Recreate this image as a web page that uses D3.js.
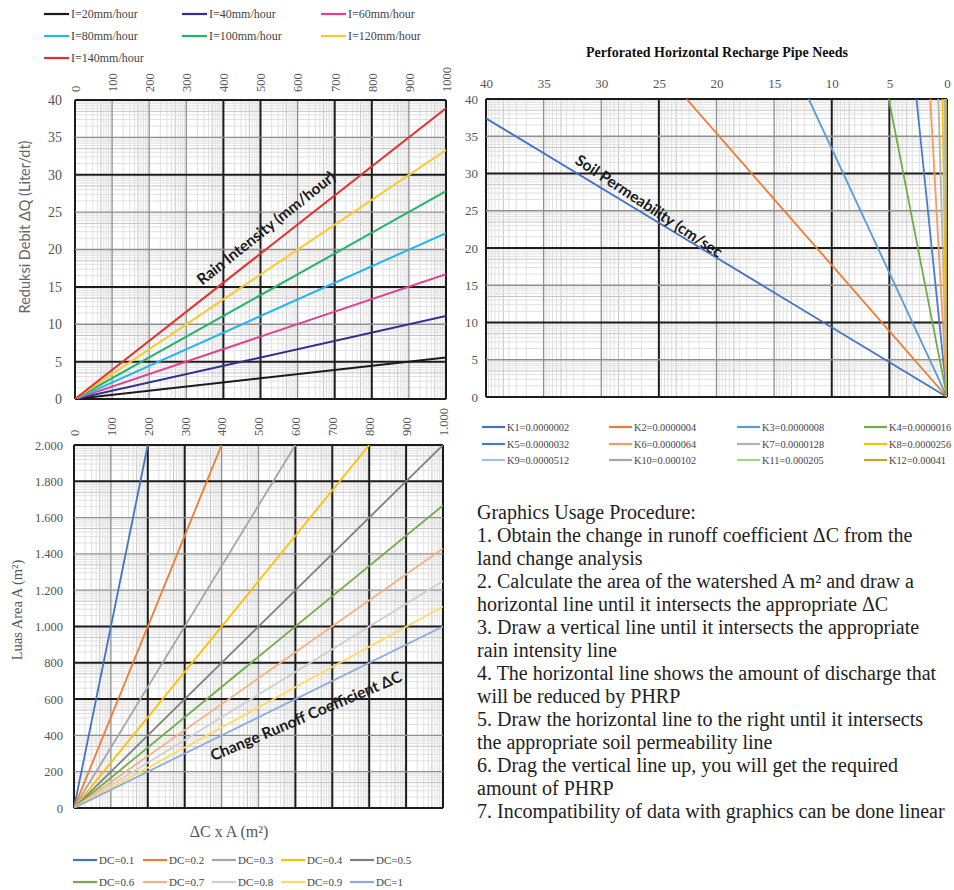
<!DOCTYPE html>
<html>
<head>
<meta charset="utf-8">
<script src="https://cdnjs.cloudflare.com/ajax/libs/d3/7.8.5/d3.min.js"></script>
<style>
  body { margin: 0; background: #fff; }
  text { font-family: "Liberation Serif", "Times New Roman", serif; }
</style>
</head>
<body>
<svg id="canvas"></svg>
<script>
// ---- data ----
// top-left: reduction of discharge per rain intensity (value at dC x A = 1000)
const rainLabels = ["I=20mm/hour", "I=40mm/hour", "I=60mm/hour", "I=80mm/hour", "I=100mm/hour", "I=120mm/hour", "I=140mm/hour"];
const rainQAt1000 = [5.56, 11.1, 16.7, 22.2, 27.8, 33.3, 38.9];

// top-right: pipe needs per soil permeability (end point of each line)
const permLabels = ["K1=0.0000002", "K2=0.0000004", "K3=0.0000008", "K4=0.0000016",
  "K5=0.0000032", "K6=0.0000064", "K7=0.0000128", "K8=0.0000256",
  "K9=0.0000512", "K10=0.000102", "K11=0.000205", "K12=0.00041"];
const permEndPipes = [40, 22.6, 12.0, 5.05, 2.65, 1.45, 0.75, 0.4, 0.22, 0.12, 0.06, 0.03];
const permEndQ = [37.4, 40, 40, 40, 40, 40, 40, 40, 40, 40, 40, 40];

// bottom-left: runoff coefficient change lines (end point of each line)
const dcLabels = ["DC=0.1", "DC=0.2", "DC=0.3", "DC=0.4", "DC=0.5", "DC=0.6", "DC=0.7", "DC=0.8", "DC=0.9", "DC=1"];
const dcEndX = [200, 400, 600, 800, 1000, 1000, 1000, 1000, 1000, 1000];
const dcEndA = [2000, 2000, 2000, 2000, 2000, 1667, 1430, 1250, 1110, 1000];

const rainTicksX = d3.range(0, 1001, 100);
const rainTicksY = d3.range(0, 41, 5);
const pipeTicksX = d3.range(0, 41, 5);
const pipeTicksY = d3.range(0, 41, 5);
const areaTicksX = d3.range(0, 1001, 100);
const areaTicksY = d3.range(0, 2001, 200);

const procedure = [
  "Graphics Usage Procedure:",
  "1. Obtain the change in runoff coefficient \u0394C from the",
  "land change analysis",
  "2. Calculate the area of the watershed A m\u00B2 and draw a",
  "horizontal line until it intersects the appropriate \u0394C",
  "3. Draw a vertical line until it intersects the appropriate",
  "rain intensity line",
  "4. The horizontal line shows the amount of discharge that",
  "will be reduced by PHRP",
  "5. Draw the horizontal line to the right until it intersects",
  "the appropriate soil permeability line",
  "6. Drag the vertical line up, you will get the required",
  "amount of PHRP",
  "7. Incompatibility of data with graphics can be done linear"
];

// ---- colours ----
const rainColors = ["#1a1a1a", "#2e2f8f", "#e0428f", "#21b5ef", "#22b56a", "#fdc82f", "#e2312f"];
const permColors = ["#4472c4", "#ed7d31", "#5b9bd5", "#70ad47", "#4a7bd0", "#f79a5c",
  "#b4b4b4", "#ffc000", "#9dc3e6", "#a5a5a5", "#a9d18e", "#c9a227"];
const dcColors = ["#4472c4", "#ed7d31", "#a5a5a5", "#ffc000", "#7f7f7f", "#70ad47",
  "#f4b183", "#d0d0d0", "#ffd966", "#8faadc"];

const width = 954;
const height = 890;

const canvas = d3.select("#canvas").attr("width", width).attr("height", height);

const idLocale = d3.formatLocale({ decimal: ",", thousands: ".", grouping: [3], currency: ["", ""] });

// log-paper style grid
const logFr = [2, 3, 4, 5, 6, 7, 8, 9].map((k) => Math.log10(k));

const drawGrid = (g, x, y, xStep, yStep, xThick, yThick) => {
  const [x0, x1] = x.domain();
  const [y0, y1] = y.domain();
  const xr = x.range();
  const yr = y.range();
  const minorX = [];
  for (let v = x0; v < x1; v += xStep) logFr.forEach((f) => minorX.push(v + f * xStep));
  const minorY = [];
  for (let v = y0; v < y1; v += yStep) logFr.forEach((f) => minorY.push(v + f * yStep));

  g.selectAll(".mx").data(minorX).enter().append("line")
    .attr("x1", (d) => x(d)).attr("x2", (d) => x(d))
    .attr("y1", yr[0]).attr("y2", yr[1])
    .attr("stroke", (d, i) => (i % 8 === 3 ? "#c4c4c4" : "#e0e0e0")).attr("stroke-width", 1);
  g.selectAll(".my").data(minorY).enter().append("line")
    .attr("y1", (d) => y(d)).attr("y2", (d) => y(d))
    .attr("x1", xr[0]).attr("x2", xr[1])
    .attr("stroke", (d, i) => (i % 8 === 3 ? "#c4c4c4" : "#e0e0e0")).attr("stroke-width", 1);

  g.selectAll(".Mx").data(d3.range(x0, x1 + 0.001, xStep)).enter().append("line")
    .attr("x1", (d) => x(d)).attr("x2", (d) => x(d))
    .attr("y1", yr[0]).attr("y2", yr[1])
    .attr("stroke", (d) => (xThick.includes(d) ? "#1c1c1c" : "#8f8f8f"))
    .attr("stroke-width", (d) => (xThick.includes(d) ? 2 : 1.3));
  g.selectAll(".My").data(d3.range(y0, y1 + 0.001, yStep)).enter().append("line")
    .attr("y1", (d) => y(d)).attr("y2", (d) => y(d))
    .attr("x1", xr[0]).attr("x2", xr[1])
    .attr("stroke", (d) => (yThick.includes(d) ? "#1c1c1c" : "#8f8f8f"))
    .attr("stroke-width", (d) => (yThick.includes(d) ? 2 : 1.3));
};

const styleAxis = (g, size) => {
  g.select(".domain").remove();
  g.selectAll("text").attr("fill", "#555").style("font-size", size + "px")
    .style("font-family", "Liberation Serif, serif");
};

const addClip = (id, x, y) => {
  canvas.append("clipPath").attr("id", id).append("rect")
    .attr("x", Math.min(...x.range())).attr("y", Math.min(...y.range()))
    .attr("width", Math.abs(x.range()[1] - x.range()[0]))
    .attr("height", Math.abs(y.range()[1] - y.range()[0]));
};

const line = d3.line();

const drawLegend = (labels, colors, cols, xs, ys, fontSize, lineLen) => {
  const lg = canvas.append("g");
  labels.forEach((lab, i) => {
    const cx = xs[i % cols];
    const cy = ys[Math.floor(i / cols)];
    lg.append("line").attr("x1", cx).attr("x2", cx + lineLen).attr("y1", cy).attr("y2", cy)
      .attr("stroke", colors[i]).attr("stroke-width", 2.2);
    lg.append("text").attr("x", cx + lineLen + 2).attr("y", cy).attr("dy", "0.35em")
      .attr("fill", "#444").style("font-size", fontSize + "px").text(lab);
  });
};

// ================= top-left: rain intensity =================
const xRain = d3.scaleLinear().domain([0, 1000]).range([75, 446]);
const yRain = d3.scaleLinear().domain([0, 40]).range([399, 100]);

drawLegend(rainLabels, rainColors, 3, [44, 182, 321], [14, 36, 58], 12, 25);

const gRain = canvas.append("g");
drawGrid(gRain, xRain, yRain, 100, 5, [0, 400, 500, 700, 800, 1000], [0, 5, 15, 30, 40]);

canvas.append("g").attr("transform", "translate(0,92)")
  .call(d3.axisTop(xRain).tickValues(rainTicksX).tickSize(0).tickFormat(d3.format("d")))
  .call((g) => styleAxis(g, 12.5))
  .selectAll("text")
  .attr("x", 0).attr("y", 0).attr("dy", "0.35em")
  .attr("transform", "rotate(-90)").style("text-anchor", "start");

canvas.append("g").attr("transform", "translate(75,0)")
  .call(d3.axisLeft(yRain).tickValues(rainTicksY).tickSize(0).tickPadding(13))
  .call((g) => styleAxis(g, 14));

addClip("clip-rain", xRain, yRain);
canvas.append("g").attr("clip-path", "url(#clip-rain)")
  .selectAll("path").data(rainQAt1000).enter().append("path")
  .attr("d", (q) => line([[xRain(0), yRain(0)], [xRain(1000), yRain(q)]]))
  .attr("fill", "none").attr("stroke", (d, i) => rainColors[i]).attr("stroke-width", 2);

canvas.append("text")
  .attr("transform", "translate(25,227) rotate(-90)")
  .attr("text-anchor", "middle").attr("dy", "0.35em")
  .attr("fill", "#666").style("font-family", "Lato, sans-serif").style("font-size", "14.5px")
  .text("Reduksi Debit \u0394Q (Liter/dt)");

canvas.append("text")
  .attr("transform", "translate(266,228) rotate(-38.5)")
  .attr("text-anchor", "middle").attr("dy", "0.35em")
  .attr("fill", "#1a1a1a").style("font-family", "Lato, sans-serif")
  .style("font-weight", "bold").style("font-size", "15.5px")
  .text("Rain Intensity (mm/hour)");

// ================= top-right: pipe needs =================
const xPipe = d3.scaleLinear().domain([0, 40]).range([947, 486]);
const yPipe = d3.scaleLinear().domain([0, 40]).range([397, 99]);

canvas.append("text").attr("x", 717).attr("y", 57).attr("text-anchor", "middle")
  .attr("fill", "#111").style("font-weight", "bold").style("font-size", "14px")
  .text("Perforated  Horizontal  Recharge  Pipe  Needs");

const gPipe = canvas.append("g");
drawGrid(gPipe, xPipe, yPipe, 5, 5, [0, 5, 10, 25, 40], [0, 10, 20, 30, 40]);

canvas.append("g").attr("transform", "translate(0,97)")
  .call(d3.axisTop(xPipe).tickValues(pipeTicksX).tickSize(0).tickPadding(9))
  .call((g) => styleAxis(g, 13));

canvas.append("g").attr("transform", "translate(486,0)")
  .call(d3.axisLeft(yPipe).tickValues(pipeTicksY).tickSize(0).tickPadding(8))
  .call((g) => styleAxis(g, 13));

addClip("clip-pipe", xPipe, yPipe);
canvas.append("g").attr("clip-path", "url(#clip-pipe)")
  .selectAll("path").data(permEndPipes).enter().append("path")
  .attr("d", (p, i) => line([[xPipe(0), yPipe(0)], [xPipe(p), yPipe(permEndQ[i])]]))
  .attr("fill", "none").attr("stroke", (d, i) => permColors[i]).attr("stroke-width", 1.8);

canvas.append("text")
  .attr("transform", "translate(649,206) rotate(33.5)")
  .attr("text-anchor", "middle").attr("dy", "0.35em")
  .attr("fill", "#1a1a1a").style("font-family", "Lato, sans-serif")
  .style("font-weight", "bold").style("font-size", "15.5px")
  .text("Soil Permeability (cm/sec");

drawLegend(permLabels, permColors, 4, [482, 609, 737, 864], [427, 444, 460], 10.3, 23);

// ================= bottom-left: runoff coefficient =================
const xArea = d3.scaleLinear().domain([0, 1000]).range([74, 443]);
const yArea = d3.scaleLinear().domain([0, 2000]).range([808, 445]);

const gArea = canvas.append("g");
drawGrid(gArea, xArea, yArea, 100, 200, [0, 200, 300, 600, 700, 800, 900, 1000], [0, 600, 800, 1000, 1800, 2000]);

canvas.append("g").attr("transform", "translate(0,436)")
  .call(d3.axisTop(xArea).tickValues(areaTicksX).tickSize(0).tickFormat(idLocale.format(",")))
  .call((g) => styleAxis(g, 12.5))
  .selectAll("text")
  .attr("x", 0).attr("y", 0).attr("dy", "0.35em")
  .attr("transform", "rotate(-90)").style("text-anchor", "start");

canvas.append("g").attr("transform", "translate(74,0)")
  .call(d3.axisLeft(yArea).tickValues(areaTicksY).tickSize(0).tickPadding(11).tickFormat(idLocale.format(",")))
  .call((g) => styleAxis(g, 12.5));

addClip("clip-area", xArea, yArea);
canvas.append("g").attr("clip-path", "url(#clip-area)")
  .selectAll("path").data(dcEndX).enter().append("path")
  .attr("d", (v, i) => line([[xArea(0), yArea(0)], [xArea(v), yArea(dcEndA[i])]]))
  .attr("fill", "none").attr("stroke", (d, i) => dcColors[i]).attr("stroke-width", 1.8);

canvas.append("text")
  .attr("transform", "translate(17,610) rotate(-90)")
  .attr("text-anchor", "middle").attr("dy", "0.35em")
  .attr("fill", "#555").style("font-size", "14.5px")
  .text("Luas Area A (m\u00B2)");

canvas.append("text").attr("x", 229).attr("y", 837).attr("text-anchor", "middle")
  .attr("fill", "#555").style("font-size", "16px")
  .text("\u0394C x A (m\u00B2)");

canvas.append("text")
  .attr("transform", "translate(306,716) rotate(-23)")
  .attr("text-anchor", "middle").attr("dy", "0.35em")
  .attr("fill", "#1a1a1a").style("font-family", "Lato, sans-serif")
  .style("font-weight", "bold").style("font-size", "15.5px")
  .text("Change Runoff Coefficient \u0394C");

drawLegend(dcLabels, dcColors, 5, [73, 143, 212, 281, 350], [860, 882], 11, 24);

// ================= procedure text =================
canvas.append("g").selectAll("text").data(procedure).enter().append("text")
  .attr("x", 477).attr("y", (d, i) => 519 + i * 23)
  .attr("fill", "#222").style("font-size", "20px")
  .text((d) => d);
</script>
</body>
</html>
